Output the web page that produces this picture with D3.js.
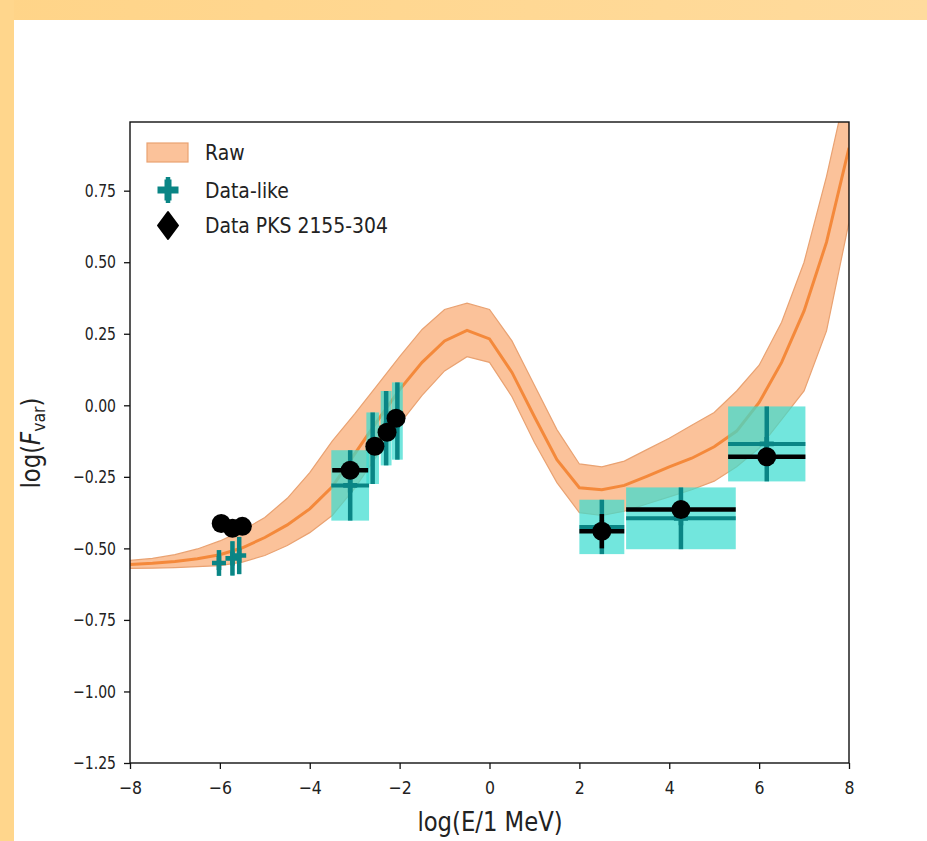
<!DOCTYPE html>
<html>
<head>
<meta charset="utf-8">
<script src="https://cdn.jsdelivr.net/npm/d3@7"></script>
<style>
  body { margin: 0; background: #fff; }
  svg { display: block; font-family: "DejaVu Sans", sans-serif; }
</style>
</head>
<body>
<svg id="chart" width="927" height="841"></svg>
<script>
// model band ("Raw"), sampled every 0.5 in log(E/1 MeV)
const rawX = [-8, -7.5, -7, -6.5, -6, -5.5, -5, -4.5, -4, -3.5, -3, -2.5, -2, -1.5, -1, -0.5,
  0, 0.5, 1, 1.5, 2, 2.5, 3, 3.5, 4, 4.5, 5, 5.5, 6, 6.5, 7, 7.5, 8];
const rawMid = [-0.556, -0.552, -0.546, -0.536, -0.522, -0.498, -0.462, -0.418, -0.362, -0.285,
  -0.170, -0.055, 0.055, 0.150, 0.225, 0.262, 0.232, 0.115, -0.040, -0.190, -0.288, -0.295,
  -0.280, -0.248, -0.215, -0.185, -0.145, -0.090, 0.010, 0.150, 0.330, 0.570, 0.900];
const rawUpper = [-0.542, -0.535, -0.522, -0.502, -0.474, -0.438, -0.392, -0.325, -0.235, -0.125,
  -0.030, 0.070, 0.170, 0.265, 0.335, 0.357, 0.335, 0.225, 0.070, -0.085, -0.205, -0.215,
  -0.195, -0.155, -0.115, -0.070, -0.025, 0.050, 0.140, 0.290, 0.500, 0.800, 1.150];
const rawLower = [-0.570, -0.569, -0.567, -0.564, -0.560, -0.548, -0.525, -0.490, -0.445, -0.385,
  -0.290, -0.175, -0.065, 0.035, 0.120, 0.170, 0.150, 0.030, -0.130, -0.270, -0.375, -0.385,
  -0.370, -0.345, -0.320, -0.295, -0.265, -0.215, -0.150, -0.050, 0.050, 0.260, 0.640];

// "Data-like" points (teal, with error boxes)
const likeX = [-6.02, -5.72, -5.57, -3.1, -2.6, -2.3, -2.05, 2.5, 4.26, 6.17];
const likeY = [-0.551, -0.535, -0.525, -0.28, -0.15, -0.08, -0.055, -0.425, -0.395, -0.135];
const likeXerr = [0.04, 0.04, 0.04, 0.42, 0.14, 0.12, 0.12, 0.5, 1.22, 0.86];
const likeYerr = [0.045, 0.06, 0.065, 0.123, 0.125, 0.13, 0.135, 0.095, 0.108, 0.131];

// "Data PKS 2155-304" points (black)
const dataX = [-5.97, -5.72, -5.5, -3.1, -2.55, -2.28, -2.08, 2.5, 4.26, 6.17];
const dataY = [-0.413, -0.43, -0.423, -0.227, -0.143, -0.094, -0.045, -0.44, -0.364, -0.18];
const dataXerr = [0.05, 0.05, 0.05, 0.4, 0.1, 0.1, 0.1, 0.5, 1.22, 0.86];
const dataYerr = [0.01, 0.01, 0.01, 0.015, 0.015, 0.015, 0.015, 0.06, 0.02, 0.03];

const xTicks = [-8, -6, -4, -2, 0, 2, 4, 6, 8];
const yTicks = [0.75, 0.5, 0.25, 0, -0.25, -0.5, -0.75, -1, -1.25];
const legendLabels = ["Raw", "Data-like", "Data PKS 2155-304"];

const SQ = 0.875; // horizontal squeeze of the text
const SQT = 0.78; // tighter squeeze for y tick labels
const svg = d3.select("#chart");
const W = 927, H = 841;
const plot = { left: 130, top: 122, right: 849, bottom: 763 };

// page background with the orange frame
const defs = svg.append("defs");
const grad = defs.append("linearGradient").attr("id", "frame").attr("x1", "0").attr("x2", "1");
grad.append("stop").attr("offset", "0").attr("stop-color", "#ffd488");
grad.append("stop").attr("offset", "1").attr("stop-color", "#ffdb9d");
svg.append("rect").attr("width", W).attr("height", H).attr("fill", "#fff");
svg.append("rect").attr("width", W).attr("height", 20).attr("fill", "url(#frame)");
svg.append("rect").attr("width", 14).attr("height", H).attr("fill", "#ffd68c");

defs.append("clipPath").attr("id", "plotclip").append("rect")
  .attr("x", plot.left).attr("y", plot.top)
  .attr("width", plot.right - plot.left).attr("height", plot.bottom - plot.top);

const x = d3.scaleLinear().domain([-8, 8]).range([plot.left, plot.right]);
const y = d3.scaleLinear().domain([-1.25, 0.99]).range([plot.bottom, plot.top]);

const g = svg.append("g").attr("clip-path", "url(#plotclip)");

// band
const band = d3.area()
  .x((d, i) => x(rawX[i]))
  .y0((d, i) => y(rawLower[i]))
  .y1((d, i) => y(rawUpper[i]));
g.append("path").datum(rawX).attr("d", band)
  .attr("fill", "#fbc29a").attr("stroke", "#e9a272").attr("stroke-width", 1.2);

const midLine = d3.line().x((d, i) => x(rawX[i])).y((d, i) => y(rawMid[i]));
g.append("path").datum(rawX).attr("d", midLine)
  .attr("fill", "none").attr("stroke", "#f4893b").attr("stroke-width", 3);

// error boxes for the data-like points
g.selectAll("rect.box").data(likeX).enter().append("rect").attr("class", "box")
  .attr("x", (d, i) => x(d - likeXerr[i]))
  .attr("y", (d, i) => y(likeY[i] + likeYerr[i]))
  .attr("width", (d, i) => x(d + likeXerr[i]) - x(d - likeXerr[i]))
  .attr("height", (d, i) => y(likeY[i] - likeYerr[i]) - y(likeY[i] + likeYerr[i]))
  .attr("fill", "#3cdcd0").attr("fill-opacity", 0.72);

const teal = "#0a8585";
function plusPath(s) {
  const h = s / 2, t = s / 6;
  return `M${-t},${-h}L${t},${-h}L${t},${-t}L${h},${-t}L${h},${t}L${t},${t}L${t},${h}L${-t},${h}L${-t},${t}L${-h},${t}L${-h},${-t}L${-t},${-t}Z`;
}

// teal error bars
g.selectAll("line.lh").data(likeX).enter().append("line").attr("class", "lh")
  .attr("x1", (d, i) => x(d - likeXerr[i])).attr("x2", (d, i) => x(d + likeXerr[i]))
  .attr("y1", (d, i) => y(likeY[i])).attr("y2", (d, i) => y(likeY[i]))
  .attr("stroke", teal).attr("stroke-width", 4);
g.selectAll("line.lv").data(likeX).enter().append("line").attr("class", "lv")
  .attr("x1", d => x(d)).attr("x2", d => x(d))
  .attr("y1", (d, i) => y(likeY[i] + likeYerr[i])).attr("y2", (d, i) => y(likeY[i] - likeYerr[i]))
  .attr("stroke", teal).attr("stroke-width", 4.5);
g.selectAll("path.lp").data(likeX).enter().append("path").attr("class", "lp")
  .attr("d", plusPath(14))
  .attr("transform", (d, i) => `translate(${x(d)},${y(likeY[i])})`)
  .attr("fill", teal);

// black data error bars and points
g.selectAll("line.dh").data(dataX).enter().append("line").attr("class", "dh")
  .attr("x1", (d, i) => x(d - dataXerr[i])).attr("x2", (d, i) => x(d + dataXerr[i]))
  .attr("y1", (d, i) => y(dataY[i])).attr("y2", (d, i) => y(dataY[i]))
  .attr("stroke", "#000").attr("stroke-width", 4.5);
g.selectAll("line.dv").data(dataX).enter().append("line").attr("class", "dv")
  .attr("x1", d => x(d)).attr("x2", d => x(d))
  .attr("y1", (d, i) => y(dataY[i] + dataYerr[i])).attr("y2", (d, i) => y(dataY[i] - dataYerr[i]))
  .attr("stroke", "#000").attr("stroke-width", 4.5);
g.selectAll("circle.dp").data(dataX).enter().append("circle").attr("class", "dp")
  .attr("cx", d => x(d)).attr("cy", (d, i) => y(dataY[i])).attr("r", 9.5)
  .attr("fill", "#000");

// axes
const yAxis = svg.append("g").attr("transform", `translate(${plot.left},0)`)
  .call(d3.axisLeft(y).tickValues(yTicks).tickFormat(d3.format(".2f")).tickSize(6).tickSizeOuter(0));
yAxis.selectAll("text").attr("font-size", 18).attr("fill", "#222")
  .attr("font-family", "DejaVu Sans")
  .attr("x", -14 / SQT).attr("transform", `scale(${SQT},1)`);

const xAxis = svg.append("g").attr("transform", `translate(0,${plot.bottom})`)
  .call(d3.axisBottom(x).tickValues(xTicks).tickFormat(d3.format("d")).tickSize(6).tickSizeOuter(0));
xAxis.selectAll("text").attr("font-size", 18).attr("fill", "#222")
  .attr("font-family", "DejaVu Sans")
  .attr("y", 18).attr("transform", `scale(${SQ},1)`);
svg.selectAll(".domain").remove();
svg.selectAll(".tick line").attr("stroke", "#111").attr("stroke-width", 1.3);

svg.append("rect").attr("x", plot.left).attr("y", plot.top)
  .attr("width", plot.right - plot.left).attr("height", plot.bottom - plot.top)
  .attr("fill", "none").attr("stroke", "#111").attr("stroke-width", 1.4);

// axis labels
svg.append("text").attr("transform", `translate(490,831) scale(${SQ},1)`)
  .attr("text-anchor", "middle").attr("font-size", 26).attr("fill", "#222")
  .text("log(E/1 MeV)");

const yl = svg.append("text").attr("transform", `translate(40,443) rotate(-90) scale(${SQ},1)`)
  .attr("text-anchor", "middle").attr("font-size", 26).attr("fill", "#222");
yl.append("tspan").text("log(");
yl.append("tspan").attr("font-style", "italic").text("F");
yl.append("tspan").attr("font-size", 18).attr("dy", 5).text("var");
yl.append("tspan").attr("dy", -5).text(")");

// legend
const lg = svg.append("g");
lg.append("rect").attr("x", 147).attr("y", 143).attr("width", 41).attr("height", 19)
  .attr("fill", "#fbc29a").attr("stroke", "#e9a272").attr("stroke-width", 1.2);
lg.append("line").attr("x1", 168).attr("x2", 168).attr("y1", 177).attr("y2", 203)
  .attr("stroke", teal).attr("stroke-width", 4.5);
lg.append("path").attr("d", plusPath(21)).attr("transform", "translate(168,190)").attr("fill", teal);
lg.append("path").attr("d", "M168,212L178,225.5L168,239L158,225.5Z")
  .attr("fill", "#000").attr("stroke", "#000").attr("stroke-width", 2).attr("stroke-linejoin", "round");
const legendBase = [160, 198, 233];
legendLabels.forEach((t, i) => {
  lg.append("text").attr("transform", `translate(205,${legendBase[i]}) scale(${SQ},1)`)
    .attr("font-size", 21.5).attr("fill", "#222").text(t);
});
</script>
</body>
</html>
